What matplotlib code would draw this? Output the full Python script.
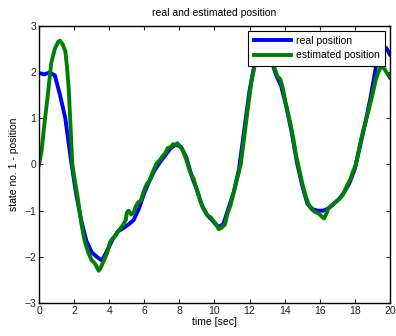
import numpy as np
import matplotlib.pyplot as plt

# real position (blue)
t_real = [0, 0.3, 0.6, 0.9, 1.2, 1.5, 1.8, 2.1, 2.4, 2.7, 3.0, 3.3, 3.6, 3.9, 4.2,
          4.5, 4.8, 5.1, 5.4, 5.7, 6.0, 6.3, 6.6, 6.9, 7.2, 7.5, 7.8, 8.1, 8.4, 8.7,
          9.0, 9.3, 9.6, 9.9, 10.2, 10.5, 10.8, 11.1, 11.4, 11.7, 12.0, 12.3, 12.6,
          12.9, 13.2, 13.5, 13.8, 14.1, 14.4, 14.7, 15.0, 15.3, 15.6, 15.9, 16.2,
          16.5, 16.8, 17.1, 17.4, 17.7, 18.0, 18.3, 18.6, 18.9, 19.2, 19.5, 19.8, 20.0]
x_real = [1.98, 1.95, 1.99, 1.93, 1.5, 1.0, 0.15, -0.6, -1.2, -1.65, -1.9, -2.0,
          -2.08, -1.85, -1.62, -1.45, -1.38, -1.3, -1.2, -0.95, -0.62, -0.35, -0.12,
          0.05, 0.2, 0.35, 0.43, 0.38, 0.15, -0.25, -0.55, -0.9, -1.1, -1.22, -1.35,
          -1.3, -0.95, -0.6, -0.1, 0.75, 1.6, 2.2, 2.5, 2.5, 2.3, 1.95, 1.7, 1.25,
          0.7, 0.05, -0.45, -0.85, -0.97, -1.0, -1.0, -0.95, -0.85, -0.75, -0.6,
          -0.4, -0.1, 0.4, 0.9, 1.45, 2.1, 2.55, 2.52, 2.38]

# estimated position (green)
t_est = [0, 0.15, 0.3, 0.5, 0.7, 0.9, 1.1, 1.2, 1.35, 1.5, 1.6, 1.7, 1.8, 1.9, 2.0,
         2.2, 2.4, 2.6, 2.8, 3.0, 3.2, 3.4, 3.5, 3.7, 3.9, 4.05, 4.2, 4.35, 4.5, 4.65,
         4.8, 4.95, 5.0, 5.1, 5.25, 5.4, 5.5, 5.65, 5.8, 6.0, 6.15, 6.3, 6.5, 6.7,
         6.9, 7.05, 7.2, 7.35, 7.5, 7.65, 7.75, 7.9, 8.05, 8.2, 8.4, 8.6, 8.8, 9.0,
         9.2, 9.4, 9.6, 9.8, 10.0, 10.1, 10.25, 10.4, 10.6, 10.75, 10.9, 11.1, 11.3,
         11.5, 11.7, 11.9, 12.1, 12.3, 12.5, 12.8, 13.1, 13.35, 13.6, 13.75, 13.9,
         14.05, 14.2, 14.35, 14.5, 14.65, 14.8, 15.0, 15.2, 15.35, 15.5, 15.7, 15.95,
         16.1, 16.25, 16.4, 16.5, 16.65, 16.8, 16.95, 17.1, 17.3, 17.45, 17.6, 17.75,
         17.9, 18.05, 18.25, 18.45, 18.6, 18.8, 19.0, 19.2, 19.35, 19.5, 19.65, 19.8, 20.0]
x_est = [0.0, 0.3, 0.85, 1.5, 2.2, 2.5, 2.66, 2.68, 2.6, 2.45, 2.1, 1.6, 0.8, 0.0,
         -0.25, -0.7, -1.25, -1.65, -1.9, -2.07, -2.15, -2.3, -2.25, -2.08, -1.9,
         -1.68, -1.6, -1.55, -1.45, -1.38, -1.3, -1.2, -1.05, -1.0, -1.08, -1.05,
         -0.92, -0.82, -0.78, -0.55, -0.42, -0.35, -0.15, 0.02, 0.1, 0.18, 0.25, 0.36,
         0.37, 0.44, 0.42, 0.46, 0.38, 0.3, 0.1, -0.15, -0.3, -0.55, -0.8, -0.98,
         -1.1, -1.15, -1.25, -1.3, -1.4, -1.37, -1.3, -1.05, -0.9, -0.6, -0.3, 0.0,
         0.6, 1.2, 1.77, 2.15, 2.45, 2.55, 2.4, 2.16, 1.9, 1.85, 1.65, 1.35, 1.1,
         0.85, 0.55, 0.2, -0.05, -0.4, -0.68, -0.85, -0.95, -1.02, -1.06, -1.12,
         -1.17, -1.05, -0.95, -0.9, -0.85, -0.8, -0.75, -0.67, -0.55, -0.42, -0.32,
         -0.15, -0.02, 0.35, 0.69, 0.9, 1.19, 1.5, 1.84, 2.0, 2.12, 2.09, 2.0, 1.88]

plt.rcParams['font.family'] = ['Liberation Sans', 'DejaVu Sans']
plt.rcParams['font.size'] = 7.5
plt.rcParams['xtick.direction'] = 'in'
plt.rcParams['ytick.direction'] = 'in'
plt.rcParams['xtick.top'] = True
plt.rcParams['ytick.right'] = True

fig = plt.figure(figsize=(3.96, 3.36), dpi=100)
ax = fig.add_axes([0.0985, 0.098, 0.886, 0.825])
ax.plot(t_real, x_real, color='#0000ff', linewidth=2.8, label='real position')
ax.plot(t_est, x_est, color='#008000', linewidth=2.8, label='estimated position')

ax.set_xlim(0, 20)
ax.set_ylim(-3, 3)
ax.set_xticks(np.arange(0, 21, 2))
ax.set_yticks(np.arange(-3, 4, 1))
ax.tick_params(length=3, width=0.8, pad=2, colors='#222222')
for s in ax.spines.values():
    s.set_linewidth(1.0)

ax.set_title('real and estimated position', fontsize=7.5, pad=7)
ax.set_xlabel('time [sec]', labelpad=1)
ax.set_ylabel('state no. 1 - position', labelpad=4)

leg = ax.legend(loc='upper right', fancybox=False, edgecolor='black',
                framealpha=1, handlelength=3.6, borderpad=0.5,
                labelspacing=0.45, borderaxespad=0.45, handletextpad=0.5)
leg.get_frame().set_linewidth(0.8)

fig.savefig('out.png', dpi=100)
